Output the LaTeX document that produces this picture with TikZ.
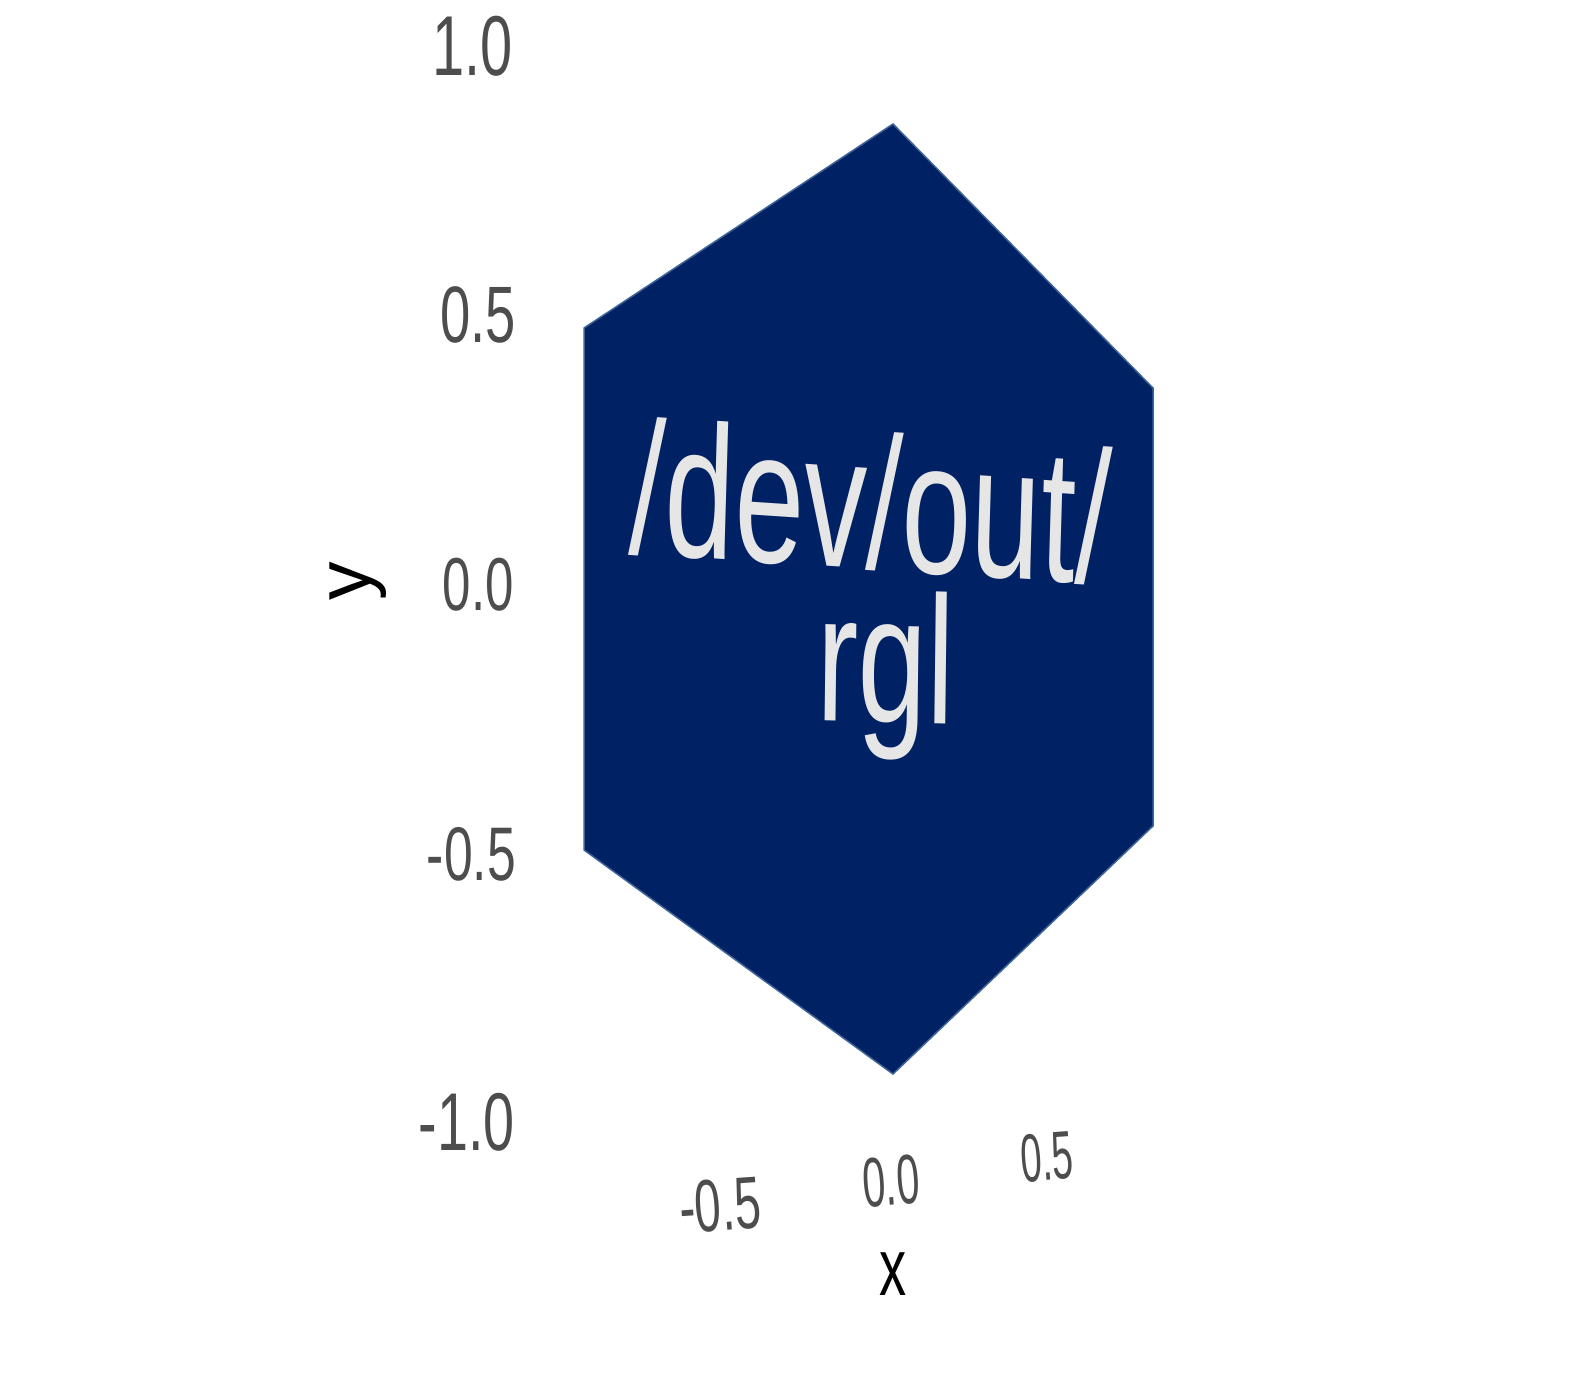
\documentclass[tikz,border=0pt]{standalone}
\usepackage{fontspec}
\setmainfont{Liberation Sans}
\definecolor{hexfill}{RGB}{0,34,100}
\definecolor{hexedge}{RGB}{62,100,150}
\definecolor{ticklab}{RGB}{77,77,77}
\definecolor{hextext}{RGB}{230,230,230}
\begin{document}
\begin{tikzpicture}[x=1pt,y=-1pt,
  ticky/.style={text=ticklab,inner sep=0pt,anchor=east,xscale=0.68},
  tickx/.style={text=ticklab,inner sep=0pt,anchor=center,rotate=4},
  axlab/.style={text=black,inner sep=0pt,anchor=center},
  hexlab/.style={text=hextext,inner sep=0pt,anchor=base}]
\useasboundingbox (0,0) rectangle (1584,1396);
% hexagon
\coordinate (t) at (893,124);
\coordinate (ul) at (584,328);
\coordinate (ll) at (584,850);
\coordinate (b) at (893,1074);
\coordinate (lr) at (1153,826);
\coordinate (ur) at (1153,388);
\fill[hexfill,draw=hexedge,line width=1.5pt,line join=miter] (t) -- (ul) -- (ll) -- (b) -- (lr) -- (ur) -- cycle;
% label
\node[hexlab,xscale=0.66,rotate=-2.5] (l1) at (869,569) {\fontsize{190}{190}\selectfont /dev/out/};
\node[hexlab,xscale=0.68,rotate=-1] (l2) at (885,722) {\fontsize{182}{182}\selectfont rgl};
% y ticks
\node[ticky] (y1) at (513,46.5) {\fontsize{85}{85}\selectfont 1.0};
\node[ticky] (y2) at (516,314.5) {\fontsize{80}{80}\selectfont 0.5};
\node[ticky] (y3) at (514,584.5) {\fontsize{75}{75}\selectfont 0.0};
\node[ticky] (y4) at (516,854) {\fontsize{76}{76}\selectfont -0.5};
\node[ticky] (y5) at (515,1122.5) {\fontsize{82}{82}\selectfont -1.0};
% x ticks
\node[tickx,xscale=0.64] (x1) at (720,1205) {\fontsize{74}{74}\selectfont -0.5};
\node[tickx,xscale=0.59] (x2) at (891,1181) {\fontsize{70}{70}\selectfont 0.0};
\node[tickx,xscale=0.56] (x3) at (1047,1157) {\fontsize{68}{68}\selectfont 0.5};
% axis labels
\node[axlab,xscale=0.67] (xl) at (893,1274) {\fontsize{81}{81}\selectfont x};
\node[axlab,rotate=90] (yl) at (358,581) {\fontsize{77}{77}\selectfont y};
\end{tikzpicture}
\end{document}
